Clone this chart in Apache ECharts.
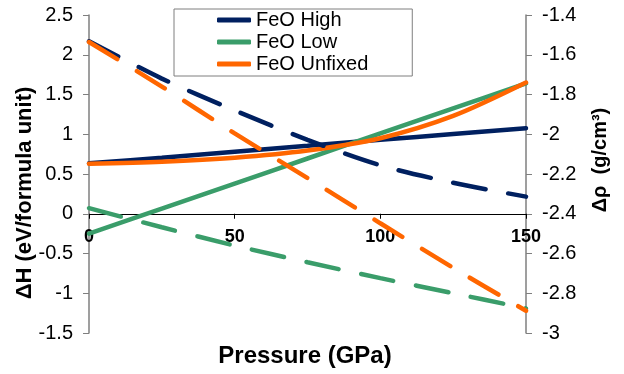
<!DOCTYPE html>
<html>
<head>
<meta charset="utf-8">
<script src="https://cdn.jsdelivr.net/npm/echarts@6/dist/echarts.min.js"></script>
<style>
html,body{margin:0;padding:0;background:#fff;}
#chart{width:624px;height:374px;}
</style>
</head>
<body>
<div id="chart"></div>
<script>
// Pressure (GPa)
const pressures = [0, 25, 50, 75, 100, 125, 150];
// ΔH (eV/formula unit) — left axis, dashed lines
const dHHigh    = [2.17, 1.70, 1.30, 0.93, 0.61, 0.39, 0.215];
const dHLow     = [0.07, -0.17, -0.40, -0.61, -0.81, -1.00, -1.19];
const dHUnfixed = [2.16, 1.60, 1.01, 0.45, -0.12, -0.68, -1.22];
// Δρ (g/cm³) — right axis, solid lines
const dRhoHigh    = [-2.146, -2.118, -2.088, -2.058, -2.028, -1.999, -1.970];
const dRhoLow     = [-2.500, -2.374, -2.248, -2.122, -1.996, -1.870, -1.744];
const dRhoUnfixed = [-2.148, -2.138, -2.118, -2.082, -2.020, -1.908, -1.740];
// axis ticks
const xTicks = {min: 0, max: 150, interval: 50};
const leftTicks = {min: -1.5, max: 2.5, interval: 0.5};
const rightTicks = {min: -3, max: -1.4, interval: 0.2};
const seriesNames = ['FeO High', 'FeO Low', 'FeO Unfixed'];

const colors = {'FeO High': '#002060', 'FeO Low': '#3A9D6A', 'FeO Unfixed': '#FF6600'};
const FONT = '"Liberation Sans", Arial, sans-serif';

function pairs(ys) { return pressures.map((p, i) => [p, ys[i]]); }

function solid(name, ys) {
  return {
    name, type: 'line', yAxisIndex: 1, data: pairs(ys), showSymbol: false, symbol: 'none',
    smooth: 0.3, lineStyle: {color: colors[name], width: 4.5, cap: 'round'},
    itemStyle: {color: colors[name]}, z: 2
  };
}
function dashed(name, ys) {
  return {
    name, type: 'line', yAxisIndex: 0, data: pairs(ys), showSymbol: false, symbol: 'none',
    smooth: 0.3, lineStyle: {color: colors[name], width: 4.5, type: [33, 23], cap: 'round'},
    itemStyle: {color: colors[name]}, z: 3
  };
}

const chart = echarts.init(document.getElementById('chart'), null, {renderer: 'canvas'});
chart.setOption({
  animation: false,
  backgroundColor: '#fff',
  textStyle: {fontFamily: FONT},
  grid: {left: 89, right: 98, top: 15, bottom: 41, containLabel: false},
  legend: {
    data: seriesNames,
    orient: 'vertical',
    left: 174, top: 9,
    padding: [1, 44, 2, 43],
    itemWidth: 34, itemHeight: 5, itemGap: 2,
    icon: 'roundRect',
    borderColor: '#7f7f7f', borderWidth: 1, backgroundColor: '#fff',
    textStyle: {fontSize: 20, color: '#000', fontFamily: FONT, lineHeight: 20}
  },
  xAxis: {
    type: 'value', min: xTicks.min, max: xTicks.max, interval: xTicks.interval,
    position: 'bottom', offset: -119.25,
    axisLine: {onZero: false, lineStyle: {color: '#000', width: 1}},
    axisTick: {show: true, length: 5, lineStyle: {color: '#000'}},
    axisLabel: {fontSize: 18, fontWeight: 'bold', color: '#000', margin: 14, fontFamily: FONT},
    splitLine: {show: false}
  },
  yAxis: [
    {
      type: 'value', position: 'left', min: leftTicks.min, max: leftTicks.max, interval: leftTicks.interval,
      axisLine: {show: true, onZero: false, lineStyle: {color: '#7f7f7f', width: 1.5}},
      axisTick: {show: true, length: 6, lineStyle: {color: '#7f7f7f'}},
      axisLabel: {fontSize: 20, color: '#000', margin: 16, fontFamily: FONT},
      splitLine: {show: false}
    },
    {
      type: 'value', position: 'right', min: rightTicks.min, max: rightTicks.max, interval: rightTicks.interval,
      axisLine: {show: true, onZero: false, lineStyle: {color: '#7f7f7f', width: 1.5}},
      axisTick: {show: true, length: 6, lineStyle: {color: '#7f7f7f'}},
      axisLabel: {fontSize: 20, color: '#000', margin: 16, fontFamily: FONT},
      splitLine: {show: false}
    }
  ],
  graphic: [
    {type: 'text', x: 305, y: 356, style: {text: 'Pressure (GPa)', font: 'bold 24px ' + FONT, fill: '#000', textAlign: 'center', textVerticalAlign: 'middle'}},
    {type: 'text', x: 25, y: 193, rotation: Math.PI / 2, style: {text: 'ΔH (eV/formula unit)', font: 'bold 22px ' + FONT, fill: '#000', textAlign: 'center', textVerticalAlign: 'middle'}},
    {type: 'text', x: 600, y: 160, rotation: Math.PI / 2, style: {text: 'Δρ  (g/cm³)', font: 'bold 20px ' + FONT, fill: '#000', textAlign: 'center', textVerticalAlign: 'middle'}}
  ],
  series: [
    solid('FeO High', dRhoHigh),
    solid('FeO Low', dRhoLow),
    solid('FeO Unfixed', dRhoUnfixed),
    dashed('FeO High', dHHigh),
    dashed('FeO Low', dHLow),
    dashed('FeO Unfixed', dHUnfixed)
  ]
});
</script>
</body>
</html>
